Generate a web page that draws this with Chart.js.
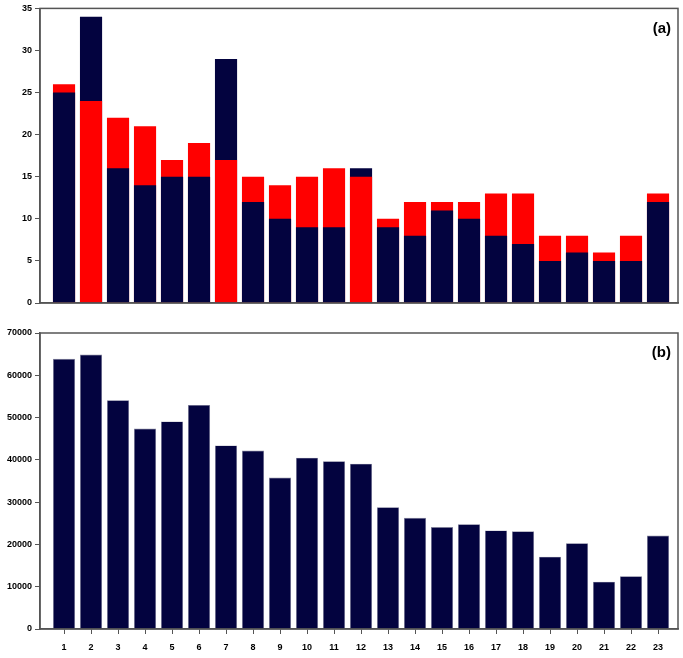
<!DOCTYPE html>
<html>
<head>
<meta charset="utf-8">
<script src="https://cdn.jsdelivr.net/npm/chart.js@4"></script>
<style>
  body { margin: 0; background: #fff; }
  #wrap { position: relative; width: 683px; height: 658px; }
  canvas { position: absolute; left: 0; }
  #chart-a { top: 0; }
  #chart-b { top: 320px; }
</style>
</head>
<body>
<div id="wrap">
  <canvas id="chart-a" width="683" height="312"></canvas>
  <canvas id="chart-b" width="683" height="338"></canvas>
</div>
<script>
/*----------------------------------------------------------------------------*/
/* Data                                                                       */
/*----------------------------------------------------------------------------*/
const categories = ['1', '2', '3', '4', '5', '6', '7', '8', '9', '10', '11', '12',
                    '13', '14', '15', '16', '17', '18', '19', '20', '21', '22', '23'];
const navy_counts = [25, 34, 16, 14, 15, 15, 29, 12, 10, 9, 9, 16, 9, 8, 11, 10, 8, 7, 5, 6, 5, 5, 12];
const red_counts = [26, 24, 22, 21, 17, 19, 17, 15, 14, 15, 16, 15, 10, 12, 12, 12, 13, 13, 8, 8, 6, 8, 13];
const totals_b = [63900, 64900, 54100, 47400, 49100, 53000, 43400, 42200, 35800, 40500, 39700, 39100,
                  28800, 26300, 24100, 24800, 23300, 23100, 17100, 20300, 11200, 12500, 22100];
const ticks_a = [0, 5, 10, 15, 20, 25, 30, 35];
const ticks_b = [0, 10000, 20000, 30000, 40000, 50000, 60000, 70000];

/*----------------------------------------------------------------------------*/
/* Style                                                                      */
/*----------------------------------------------------------------------------*/
const NAVY = '#03033f';
const RED = '#ff0000';
const AXIS = '#555555';
const FONT = 'Liberation Sans';

/*----------------------------------------------------------------------------*/
/* Helpers                                                                    */
/*----------------------------------------------------------------------------*/
function points(values) {
    return values.map((v, i) => ({ x: i + 1, y: v }));
}

// box round the plot area + the panel letter in the top right corner
const frame_plugin = {
    id: 'frame',
    afterDraw(chart, args, opts) {
        const ctx = chart.ctx;
        const a = chart.chartArea;
        ctx.save();
        ctx.strokeStyle = AXIS;
        ctx.lineWidth = 1.5;
        ctx.strokeRect(a.left, a.top, a.right - a.left, a.bottom - a.top);
        ctx.fillStyle = '#000';
        ctx.font = `bold 15px "${FONT}"`;
        ctx.textAlign = 'right';
        ctx.textBaseline = 'middle';
        ctx.fillText(opts.text, a.right - 7, a.top + 20);
        ctx.restore();
    }
};

function x_axis(show_labels) {
    return {
        type: 'linear',
        offset: false,
        min: 0.11,
        max: 23.74,
        afterBuildTicks: s => { s.ticks = categories.map((c, i) => ({ value: i + 1 })); },
        afterFit: s => { s.height = show_labels ? 24 : 0; },
        ticks: {
            display: show_labels,
            callback: (v, i) => categories[i],
            color: '#000',
            font: { family: FONT, size: 9, weight: 'bold' },
            padding: 8,
            maxRotation: 0,
            autoSkip: false
        },
        grid: { display: show_labels, offset: false, drawOnChartArea: false, tickLength: 5, color: AXIS, lineWidth: 1 },
        border: { display: true, color: AXIS, width: 1.5 }
    };
}

function y_axis(max, tick_values) {
    return {
        min: 0,
        max: max,
        afterBuildTicks: s => { s.ticks = tick_values.map(v => ({ value: v })); },
        afterFit: s => { s.width = 40; },
        ticks: {
            callback: v => String(v),
            color: '#000',
            font: { family: FONT, size: 9, weight: 'bold' },
            padding: 3
        },
        grid: { drawOnChartArea: false, tickLength: 5, color: AXIS, lineWidth: 1 },
        border: { display: true, color: AXIS, width: 1.5 }
    };
}

/*----------------------------------------------------------------------------*/
/* Panel (a): the shorter bar of each pair is drawn in front of the taller    */
/*----------------------------------------------------------------------------*/
const front_values = navy_counts.map((n, i) => Math.min(n, red_counts[i]));
const back_values = navy_counts.map((n, i) => Math.max(n, red_counts[i]));
const front_colors = navy_counts.map((n, i) => n <= red_counts[i] ? NAVY : RED);
const back_colors = navy_counts.map((n, i) => n <= red_counts[i] ? RED : NAVY);

new Chart(document.getElementById('chart-a'), {
    type: 'bar',
    data: {
        datasets: [
            { data: points(front_values), backgroundColor: front_colors, grouped: false,
              barPercentage: 0.82, categoryPercentage: 1 },
            { data: points(back_values), backgroundColor: back_colors, grouped: false,
              barPercentage: 0.82, categoryPercentage: 1 }
        ]
    },
    options: {
        responsive: false,
        animation: false,
        layout: { padding: { top: 7, right: 5, bottom: 9, left: 0 } },
        plugins: { legend: { display: false }, tooltip: { enabled: false }, frame: { text: '(a)' } },
        scales: { x: x_axis(false), y: y_axis(35, ticks_a) }
    },
    plugins: [frame_plugin]
});

/*----------------------------------------------------------------------------*/
/* Panel (b)                                                                  */
/*----------------------------------------------------------------------------*/
new Chart(document.getElementById('chart-b'), {
    type: 'bar',
    data: {
        datasets: [
            { data: points(totals_b), backgroundColor: NAVY, borderColor: '#8a8aa0', borderWidth: 0.6,
              barPercentage: 0.82, categoryPercentage: 1 }
        ]
    },
    options: {
        responsive: false,
        animation: false,
        layout: { padding: { top: 13, right: 5, bottom: 5, left: 0 } },
        plugins: { legend: { display: false }, tooltip: { enabled: false }, frame: { text: '(b)' } },
        scales: { x: x_axis(true), y: y_axis(70000, ticks_b) }
    },
    plugins: [frame_plugin]
});
</script>
</body>
</html>
